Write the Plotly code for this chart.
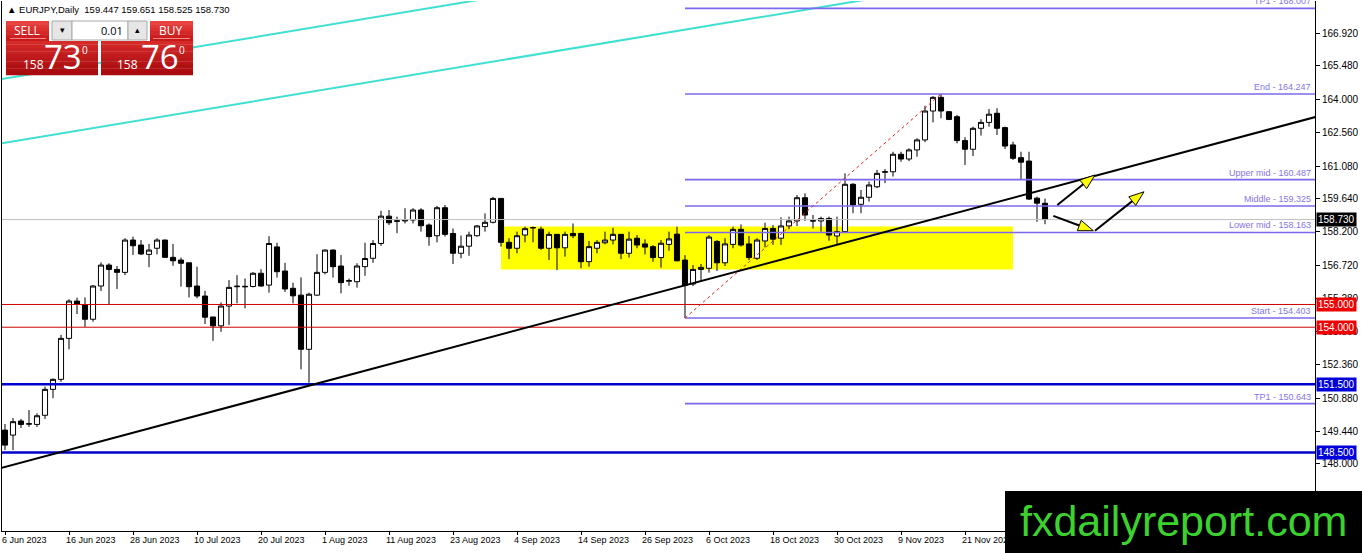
import pandas as pd
import plotly.graph_objects as go

# ---------------- data ----------------
dates = pd.bdate_range("2023-06-06", "2023-12-05")

opens = [149.48, 149.26, 149.88, 149.74, 149.73, 150.13, 151.27, 151.71, 153.51, 155.15,
         154.98, 154.35, 155.81, 156.73, 156.54, 156.41, 157.83, 157.61, 157.20, 157.47,
         157.83, 157.07, 156.95, 156.83, 155.81, 155.37, 154.45, 154.06, 154.93, 155.78,
         155.80, 155.79, 156.37, 155.85, 157.53, 156.47, 155.71, 155.41, 153.03, 155.41,
         156.41, 157.39, 156.69, 156.02, 156.00, 156.66, 157.03, 157.68, 158.88, 158.68,
         158.67, 158.71, 159.15, 158.49, 158.02, 159.25, 158.12, 157.25, 157.56, 158.02,
         158.42, 158.61, 159.66, 157.73, 157.47, 158.05, 158.36, 158.31, 157.47, 158.08,
         157.49, 158.12, 158.12, 156.88, 157.47, 157.71, 157.83, 158.08, 157.25, 157.91,
         157.66, 157.54, 157.06, 157.64, 158.09, 156.95, 155.90, 156.54, 156.59, 157.77,
         156.83, 157.64, 158.30, 157.66, 157.03, 157.79, 158.34, 157.91, 158.45, 158.67,
         159.69, 158.68, 158.67, 158.78, 158.01, 158.20, 160.28, 159.40, 159.71, 160.17,
         160.81, 160.83, 161.60, 161.39, 161.79, 162.23, 163.50, 164.10, 163.47, 163.25,
         162.20, 161.82, 162.74, 163.00, 163.40, 162.77, 162.01, 161.45, 161.30, 159.67,
         159.447]
highs = [149.75, 150.01, 149.97, 150.36, 150.22, 151.39, 151.75, 153.66, 155.23, 155.30,
         155.31, 155.85, 156.85, 156.81, 156.69, 157.91, 157.98, 157.83, 157.66, 157.91,
         157.85, 157.66, 157.06, 156.83, 156.66, 155.60, 154.45, 155.09, 156.07, 156.29,
         156.14, 156.42, 156.55, 158.00, 157.71, 156.83, 155.95, 156.19, 155.52, 157.21,
         157.42, 157.42, 157.17, 156.14, 156.81, 157.71, 157.83, 159.12, 159.15, 158.86,
         159.23, 159.23, 159.23, 158.56, 159.33, 159.37, 158.34, 158.03, 158.20, 158.49,
         159.00, 159.73, 159.67, 157.91, 158.20, 158.42, 158.42, 158.42, 158.20, 158.10,
         158.20, 158.56, 158.15, 157.79, 157.83, 158.20, 158.37, 158.10, 158.20, 158.05,
         157.86, 157.61, 157.83, 158.20, 158.42, 157.17, 156.73, 156.78, 158.05, 157.83,
         157.91, 158.42, 158.52, 158.01, 157.91, 158.59, 158.49, 158.83, 158.86, 159.81,
         159.88, 158.93, 158.86, 158.86, 158.86, 160.76, 160.33, 160.03, 160.40, 160.91,
         160.95, 161.71, 161.71, 161.86, 162.30, 163.73, 164.15, 164.25, 163.50, 163.33,
         162.35, 162.81, 163.14, 163.59, 163.62, 162.81, 162.15, 161.71, 161.71, 159.74,
         159.651]
lows = [148.60, 148.60, 149.57, 149.62, 149.62, 149.97, 150.88, 151.60, 153.03, 154.58,
        154.02, 154.24, 155.59, 155.02, 155.68, 156.29, 157.17, 157.17, 156.64, 157.20,
        157.05, 156.70, 155.78, 155.31, 155.27, 154.14, 153.40, 153.80, 154.10, 155.05,
        154.83, 155.75, 155.78, 155.52, 156.18, 155.55, 155.05, 152.15, 151.56, 155.38,
        156.32, 156.18, 155.49, 155.82, 155.74, 156.26, 156.83, 157.57, 158.49, 158.13,
        158.56, 158.56, 158.20, 157.58, 157.73, 157.98, 156.78, 157.03, 157.14, 157.98,
        158.20, 158.56, 157.54, 156.99, 157.25, 157.73, 157.73, 157.40, 156.95, 156.51,
        157.10, 157.91, 156.59, 156.66, 157.25, 157.64, 157.64, 156.99, 157.06, 157.47,
        157.20, 156.88, 156.62, 157.36, 156.90, 154.40, 155.81, 156.00, 156.40, 156.47,
        156.69, 157.47, 157.54, 156.95, 156.95, 157.51, 157.62, 157.62, 158.30, 158.45,
        158.67, 158.34, 158.20, 157.80, 157.64, 158.15, 159.01, 159.01, 159.52, 160.11,
        160.33, 160.62, 161.27, 161.30, 161.49, 162.13, 163.00, 163.18, 163.10, 162.08,
        161.13, 161.52, 162.42, 162.81, 162.45, 161.83, 161.35, 160.47, 159.59, 158.63,
        158.525]
closes = [148.82, 149.85, 149.73, 149.76, 150.11, 151.27, 151.71, 153.51, 155.15, 155.02,
          154.35, 155.81, 156.73, 156.54, 156.41, 157.83, 157.58, 157.22, 157.39, 157.83,
          157.07, 156.92, 156.81, 155.78, 155.37, 154.44, 154.06, 154.93, 155.75, 155.80,
          155.78, 156.37, 155.81, 157.68, 156.44, 155.68, 155.38, 153.03, 155.45, 156.41,
          157.39, 156.66, 155.96, 156.05, 156.69, 157.02, 157.68, 158.88, 158.59, 158.66,
          158.71, 159.15, 158.46, 157.98, 159.25, 158.08, 157.25, 157.56, 158.05, 158.45,
          158.61, 159.66, 157.73, 157.47, 158.02, 158.33, 158.38, 157.47, 158.08, 157.49,
          158.08, 158.02, 156.88, 157.54, 157.73, 157.83, 158.08, 157.25, 157.87, 157.61,
          157.52, 157.06, 157.69, 157.88, 156.92, 155.85, 156.54, 156.63, 157.96, 156.83,
          157.66, 158.30, 157.61, 157.06, 157.83, 158.34, 157.87, 158.45, 158.67, 159.69,
          158.93, 158.67, 158.78, 158.05, 158.20, 160.28, 159.37, 159.71, 160.25, 160.76,
          160.83, 161.60, 161.39, 161.79, 162.23, 163.50, 164.10, 163.50, 163.13, 162.20,
          161.82, 162.74, 163.00, 163.36, 162.74, 161.96, 161.42, 161.25, 159.63, 159.45,
          158.730]

tick_idx = list(range(0, 121, 8))
tick_labels = ["6 Jun 2023", "16 Jun 2023", "28 Jun 2023", "10 Jul 2023", "20 Jul 2023",
               "1 Aug 2023", "11 Aug 2023", "23 Aug 2023", "4 Sep 2023", "14 Sep 2023",
               "26 Sep 2023", "6 Oct 2023", "18 Oct 2023", "30 Oct 2023", "9 Nov 2023",
               "21 Nov 2023"]
price_ticks = [148.000, 149.440, 150.880, 152.360, 153.800, 155.280, 156.720,
               158.200, 159.640, 161.080, 162.560, 164.000, 165.480, 166.920]

# Fibonacci object (anchored on bars 3 Oct and 16 Nov)
fib_start = (85, 154.403)
fib_end = (117, 164.247)
fib_names = ["TP1", "End", "Upper mid", "Middle", "Lower mid", "Start", "TP1"]
fib_levels = [168.007, 164.247, 160.487, 159.325, 158.163, 154.403, 150.643]

# trend lines: (bar index, price) anchor pairs
trend_black = [(3.54, 148.197), (163.96, 163.250)]
channel_a = [(-0.625, 164.888), (56.875, 168.245)]
channel_b = [(-0.25, 162.094), (104.125, 168.188)]

# horizontal levels
red_levels = [155.000, 154.000]
blue_levels = [151.500, 148.500]
bid_price = 158.730

# yellow consolidation zone
zone_bars = (62, 126)
zone_prices = (156.54, 158.42)

# arrows (tail, tip)
arrows = [((131.54, 159.37), (136.25, 160.69)),
          ((131.04, 158.89), (136.04, 158.24)),
          ((136.25, 158.24), (142.375, 159.95))]

# ---------------- geometry ----------------
W, H = 1362, 553
ML, MR, MT, MB = 2, 47, 1, 22
PW, PH = W - ML - MR, H - MT - MB
XR = [-0.375, 163.75]
YR = [145.047, 168.333]
SX = PW / (XR[1] - XR[0])
SY = PH / (YR[1] - YR[0])


def PX(x):
    return (x - ML) / PW


def PY(y):
    return 1 - (y - MT) / PH


shapes = []
anns = []

# yellow zone (background)
shapes.append(dict(type="rect", xref="x", yref="y", x0=zone_bars[0], x1=zone_bars[1],
                   y0=zone_prices[0], y1=zone_prices[1], fillcolor="#FFFF00",
                   line=dict(width=0), layer="below"))


def ext_line(pts, color, width):
    (xa, ya), (xb, yb) = pts
    k = (yb - ya) / (xb - xa)
    x0, x1 = XR[0] - 2, XR[1] + 2
    shapes.append(dict(type="line", xref="x", yref="y", x0=x0, y0=ya + k * (x0 - xa),
                       x1=x1, y1=ya + k * (x1 - xa), line=dict(color=color, width=width),
                       layer="above"))


def seg_line(pts, color, width):
    (xa, ya), (xb, yb) = pts
    k = (yb - ya) / (xb - xa)
    x0 = XR[0] - 2
    x1 = xa + (YR[1] + 1 - ya) / k
    shapes.append(dict(type="line", xref="x", yref="y", x0=x0, y0=ya + k * (x0 - xa),
                       x1=x1, y1=ya + k * (x1 - xa), line=dict(color=color, width=width),
                       layer="above"))


seg_line(channel_a, "#40E0D0", 2)
seg_line(channel_b, "#40E0D0", 2)

# horizontal lines
shapes.append(dict(type="line", xref="paper", yref="y", x0=0, x1=1, y0=bid_price, y1=bid_price,
                   line=dict(color="#C0C0C0", width=1), layer="above"))
for lv in red_levels:
    shapes.append(dict(type="line", xref="paper", yref="y", x0=0, x1=1, y0=lv, y1=lv,
                       line=dict(color="#D00000", width=1), layer="above"))
for lv in blue_levels:
    shapes.append(dict(type="line", xref="paper", yref="y", x0=0, x1=1, y0=lv, y1=lv,
                       line=dict(color="#0000CC", width=2.5), layer="above"))

# fibonacci
for name, lv in zip(fib_names, fib_levels):
    shapes.append(dict(type="line", xref="x", yref="y", x0=fib_start[0], x1=XR[1] + 1,
                       y0=lv, y1=lv, line=dict(color="#7B68EE", width=1.6), layer="above"))
    anns.append(dict(xref="paper", yref="y", x=1, y=lv, xshift=-2, yshift=0,
                     xanchor="right", yanchor="bottom", showarrow=False,
                     text=f"{name} - {lv:.3f}",
                     font=dict(family="Liberation Sans", size=9, color="#8476E8")))
shapes.append(dict(type="line", xref="x", yref="y", x0=fib_start[0], y0=fib_start[1],
                   x1=fib_end[0], y1=fib_end[1],
                   line=dict(color="#E02020", width=1, dash="dot"), layer="above"))

ext_line(trend_black, "black", 2)

# arrows
for (tail, tip) in arrows:
    tx, ty = tail[0] * SX, -tail[1] * SY
    hx, hy = tip[0] * SX, -tip[1] * SY
    dx, dy = hx - tx, hy - ty
    d = (dx * dx + dy * dy) ** 0.5
    ux, uy = dx / d, dy / d
    L, Wd = 15, 5.5
    bx, by = hx - L * ux, hy - L * uy
    c1 = (bx - Wd * uy, by + Wd * ux)
    c2 = (bx + Wd * uy, by - Wd * ux)

    def dc(X, Y):
        return X / SX, -Y / SY

    shapes.append(dict(type="line", xref="x", yref="y", x0=tail[0], y0=tail[1],
                       x1=dc(bx, by)[0], y1=dc(bx, by)[1],
                       line=dict(color="black", width=2), layer="above"))
    p0, p1, p2 = dc(hx, hy), dc(*c1), dc(*c2)
    shapes.append(dict(type="path", xref="x", yref="y",
                       path=f"M {p0[0]},{p0[1]} L {p1[0]},{p1[1]} L {p2[0]},{p2[1]} Z",
                       fillcolor="#FFFF00", line=dict(color="black", width=1), layer="above"))

# right axis price boxes
for lv, col in [(bid_price, "black"), (red_levels[0], "#F00000"), (red_levels[1], "#F00000"),
                (blue_levels[0], "#0000DD"), (blue_levels[1], "#0000DD")]:
    anns.append(dict(xref="paper", yref="y", x=1, y=lv, xshift=1, xanchor="left",
                     yanchor="middle", showarrow=False, text=f"{lv:.3f}",
                     bgcolor=col, borderpad=1,
                     font=dict(family="Liberation Sans", size=10, color="white")))

# ---------------- one-click trading panel ----------------


def prect(x0, y0, x1, y1, fill, line=None, lw=0):
    shapes.append(dict(type="rect", xref="paper", yref="paper", x0=PX(x0), x1=PX(x1),
                       y0=PY(y1), y1=PY(y0), fillcolor=fill,
                       line=dict(color=line or fill, width=lw), layer="above"))


def grad(x0, y0, x1, y1, top, bot, n=10):
    def hx(c):
        return [int(c[i:i + 2], 16) for i in (1, 3, 5)]
    a, b = hx(top), hx(bot)
    h = (y1 - y0) / n
    for i in range(n):
        t = i / (n - 1)
        c = "#%02X%02X%02X" % tuple(int(a[j] + (b[j] - a[j]) * t) for j in range(3))
        prect(x0, y0 + i * h, x1, y0 + (i + 1) * h + 0.3, c)


def ptext(x, y, text, size, color="white", xanchor="center", family="Open Sans"):
    anns.append(dict(xref="paper", yref="paper", x=PX(x), y=PY(y), text=text,
                     showarrow=False, xanchor=xanchor, yanchor="middle",
                     font=dict(family=family, size=size, color=color)))


grad(6, 21, 49, 41, "#E8423E", "#C8181A", 6)
grad(150, 21, 193, 41, "#E8423E", "#C8181A", 6)
grad(6, 41, 98, 75, "#D42A28", "#A80A0D", 10)
grad(101, 41, 193, 75, "#D42A28", "#A80A0D", 10)
prect(10, 38, 46, 39, "#F08A88")
prect(153, 38, 190, 39, "#F08A88")
prect(52, 21, 72, 40, "#E6E6E6", "#A8A8A8", 1)
prect(72, 21, 128, 40, "white", "#A8A8A8", 1)
prect(128, 21, 147, 40, "#E6E6E6", "#A8A8A8", 1)
ptext(27, 31, "SELL", 12)
ptext(171, 31, "BUY", 12)
ptext(62, 30, "▾", 9, "black", family="DejaVu Sans")
ptext(137.5, 30, "▴", 9, "black", family="DejaVu Sans")
ptext(125, 30.5, "0.01", 11, "black", xanchor="right")
ptext(33, 65, "158", 12)
ptext(63, 57, "73", 33)
ptext(85, 50, "0", 10)
ptext(127, 65, "158", 12)
ptext(160, 57, "76", 33)
ptext(182, 50, "0", 10)

ptext(5, 10, "▲ EURJPY,Daily  159.447 159.651 158.525 158.730", 9.5, "black",
      xanchor="left", family="Liberation Sans")

# watermark
prect(1005, 491, 1362, 553, "black")
ptext(1183, 521, "fxdailyreport.com", 43, "#3CD22E", family="Liberation Sans")

# ---------------- figure ----------------
fig = go.Figure(go.Candlestick(
    x=list(range(len(dates))), open=opens, high=highs, low=lows, close=closes,
    increasing=dict(line=dict(color="black", width=1), fillcolor="white"),
    decreasing=dict(line=dict(color="black", width=1), fillcolor="black"),
    whiskerwidth=0, hoverinfo="skip", showlegend=False))

fig.update_layout(
    width=W, height=H, margin=dict(l=ML, r=MR, t=MT, b=MB),
    paper_bgcolor="white", plot_bgcolor="white", showlegend=False,
    boxgap=0.2, boxgroupgap=0.2,
    shapes=shapes, annotations=anns,
    xaxis=dict(range=XR, tickvals=tick_idx, ticktext=tick_labels, ticks="outside",
               ticklen=3, tickcolor="black", showline=True, linecolor="black",
               linewidth=1, mirror=False, showgrid=False, zeroline=False,
               rangeslider=dict(visible=False), ticklabelposition="outside right",
               ticklabelshift=-4,
               tickfont=dict(family="Liberation Sans", size=9, color="black")),
    yaxis=dict(side="right", range=YR, tickvals=price_ticks,
               ticktext=[f"{v:.3f}" for v in price_ticks], ticks="outside", ticklen=4,
               tickcolor="black", showline=True, linecolor="black", linewidth=1,
               mirror=True, showgrid=False, zeroline=False,
               tickfont=dict(family="Liberation Sans", size=10, color="black")),
)

fig.write_html("out.html", config={"displayModeBar": False},
               post_script="document.body.style.margin='0px';"
                           "document.body.style.overflow='hidden';")
